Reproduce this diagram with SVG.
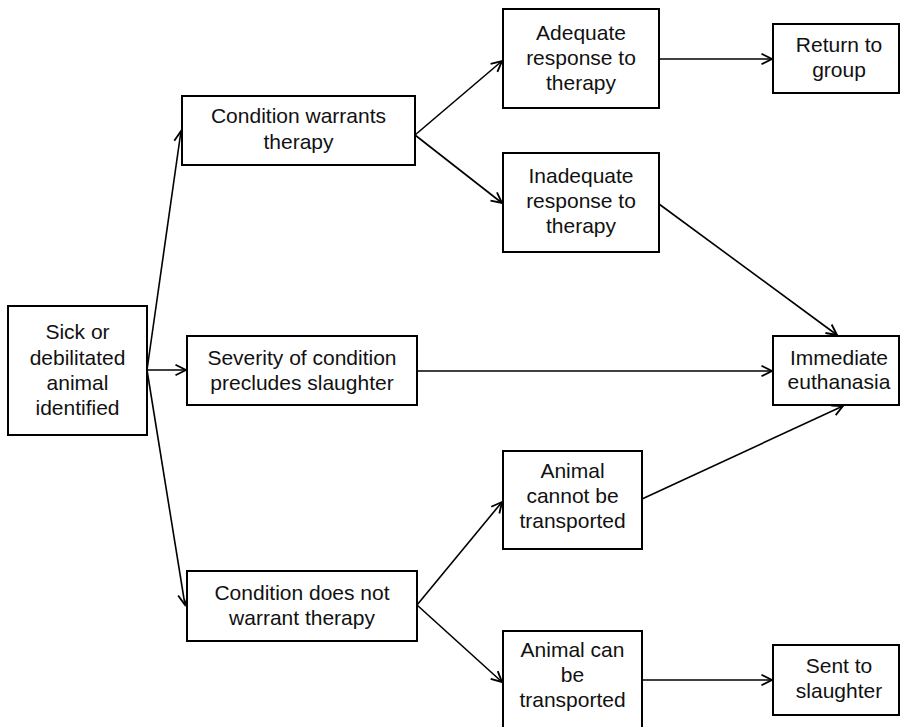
<svg xmlns="http://www.w3.org/2000/svg" width="901" height="727" viewBox="0 0 901 727">
<style>
.box{fill:#fff;stroke:#000;stroke-width:2}
.t{font-family:"Liberation Sans",Arial,Helvetica,sans-serif;font-size:21px;fill:#111;text-anchor:middle}
.c{stroke:#000;stroke-width:1.6;fill:none;marker-end:url(#ah)}
</style>
<defs>
<marker id="ah" markerUnits="userSpaceOnUse" markerWidth="14" markerHeight="14" viewBox="-1 -6 12 12" refX="9" refY="0" orient="auto">
<path d="M0,-4.5 L9,0 L0,4.5" fill="none" stroke="#000" stroke-width="1.6"/>
</marker>
</defs>
<rect width="901" height="727" fill="#fff"/>
<g id="connectors">
<line class="c" x1="147" y1="370" x2="181" y2="131"/>
<line class="c" x1="147" y1="370" x2="186" y2="370"/>
<line class="c" x1="147" y1="370" x2="185" y2="605"/>
<line class="c" x1="415" y1="135" x2="502" y2="61"/>
<line class="c" x1="415" y1="135" x2="502" y2="203"/>
<line class="c" x1="659" y1="59" x2="772" y2="59"/>
<line class="c" x1="659" y1="204" x2="837" y2="335"/>
<line class="c" x1="417" y1="371" x2="772" y2="371"/>
<line class="c" x1="642" y1="499" x2="843" y2="406"/>
<line class="c" x1="417" y1="605" x2="502" y2="502"/>
<line class="c" x1="417" y1="605" x2="502" y2="682"/>
<line class="c" x1="642" y1="680" x2="772" y2="680"/>
</g>
<g id="sick">
<rect class="box" x="8" y="306" width="139" height="129"/>
<text class="t" x="77.5" y="339">Sick or</text>
<text class="t" x="77.5" y="364.5">debilitated</text>
<text class="t" x="77.5" y="390">animal</text>
<text class="t" x="77.5" y="415">identified</text>
</g>
<g id="warrants">
<rect class="box" x="182" y="96" width="233" height="69"/>
<text class="t" x="298.5" y="123">Condition warrants</text>
<text class="t" x="298.5" y="148.5">therapy</text>
</g>
<g id="severity">
<rect class="box" x="187" y="336" width="230" height="69"/>
<text class="t" x="302" y="365">Severity of condition</text>
<text class="t" x="302" y="390">precludes slaughter</text>
</g>
<g id="notwarrant">
<rect class="box" x="187" y="571" width="230" height="70"/>
<text class="t" x="302" y="600">Condition does not</text>
<text class="t" x="302" y="625">warrant therapy</text>
</g>
<g id="adequate">
<rect class="box" x="503" y="9" width="156" height="99"/>
<text class="t" x="581" y="40">Adequate</text>
<text class="t" x="581" y="65">response to</text>
<text class="t" x="581" y="89.5">therapy</text>
</g>
<g id="inadequate">
<rect class="box" x="503" y="153" width="156" height="99"/>
<text class="t" x="581" y="183">Inadequate</text>
<text class="t" x="581" y="208">response to</text>
<text class="t" x="581" y="233">therapy</text>
</g>
<g id="return">
<rect class="box" x="773" y="24" width="126" height="69"/>
<text class="t" x="839" y="52">Return to</text>
<text class="t" x="839" y="77">group</text>
</g>
<g id="euthanasia">
<rect class="box" x="773" y="336" width="126" height="69"/>
<text class="t" x="839" y="365">Immediate</text>
<text class="t" x="839" y="389">euthanasia</text>
</g>
<g id="cannot">
<rect class="box" x="503" y="451" width="139" height="98"/>
<text class="t" x="572.5" y="478">Animal</text>
<text class="t" x="572.5" y="503">cannot be</text>
<text class="t" x="572.5" y="528">transported</text>
</g>
<g id="can">
<rect class="box" x="503" y="631" width="139" height="110"/>
<text class="t" x="572.5" y="657">Animal can</text>
<text class="t" x="572.5" y="682">be</text>
<text class="t" x="572.5" y="707">transported</text>
</g>
<g id="slaughter">
<rect class="box" x="773" y="645" width="126" height="70"/>
<text class="t" x="839" y="673">Sent to</text>
<text class="t" x="839" y="698">slaughter</text>
</g>
</svg>
